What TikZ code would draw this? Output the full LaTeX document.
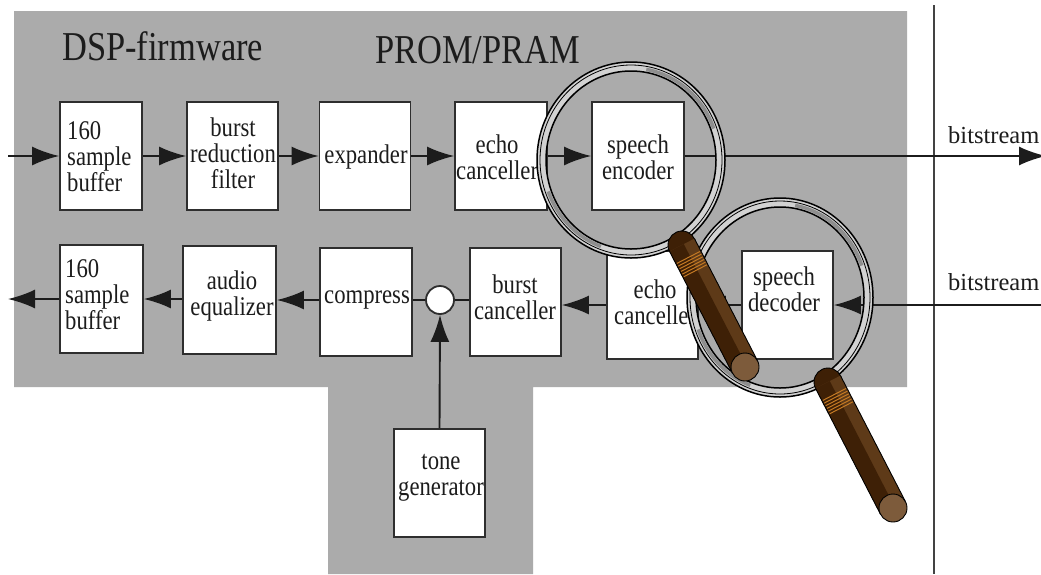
\documentclass[tikz,border=0pt]{standalone}
\usepackage{fontspec}
\usetikzlibrary{arrows.meta,calc}
\newfontfamily\dfont{Liberation Serif}[FakeStretch=0.84]
\newfontfamily\plainserif{Liberation Serif}
\definecolor{panel}{HTML}{ABABAB}
\definecolor{edge}{HTML}{2E2E2E}
\definecolor{ink}{HTML}{1C1C1C}
\definecolor{lensrim}{HTML}{D2D2D2}
\definecolor{rimdark}{HTML}{8E8E8E}
\definecolor{wooddark}{HTML}{3E2006}
\definecolor{woodmid}{HTML}{5E3A18}
\definecolor{woodcap}{HTML}{7D5B3B}
\definecolor{ribline}{HTML}{C47A24}

% magnifying glass: #1 lens centre, #2/#3 radii, #4 handle top, #5 handle end
\newcommand\drawglass[5]{%
  \coordinate (gc) at (#1);
  \fill[lensrim, even odd rule] (gc) ellipse [x radius=#2, y radius=#3]
                                (gc) ellipse [x radius=#2-9, y radius=#3-9];
  \draw[rimdark, line width=3.5pt] ($(gc)+(-80:{#2-6} and {#3-6})$)
        arc [start angle=-80, end angle=-20, x radius=#2-6, y radius=#3-6];
  \draw[rimdark, line width=3.5pt] ($(gc)+(110:{#2-6} and {#3-6})$)
        arc [start angle=110, end angle=160, x radius=#2-6, y radius=#3-6];
  \draw[line width=1.5pt] (gc) ellipse [x radius=#2, y radius=#3];
  \draw[line width=0.8pt] (gc) ellipse [x radius=#2-3, y radius=#3-3];
  \draw[line width=1.5pt] (gc) ellipse [x radius=#2-9, y radius=#3-9];
  \coordinate (ha) at (#4);
  \coordinate (hb) at (#5);
  \coordinate (ha1) at ($(ha)!14pt!90:(hb)$);
  \coordinate (ha2) at ($(ha)!14pt!-90:(hb)$);
  \coordinate (hb1) at ($(hb)!14pt!-90:(ha)$);
  \coordinate (hb2) at ($(hb)!14pt!90:(ha)$);
  \filldraw[draw=black, fill=wooddark, line width=0.9pt] (ha) circle [radius=14];
  \fill[woodmid] (ha1) -- (hb1) -- (hb2) -- (ha2) -- cycle;
  \fill[wooddark] (ha2) -- (hb2) -- ($(hb)!2pt!-90:(ha)$) -- ($(ha)!2pt!90:(hb)$) -- cycle;
  \draw[line width=0.9pt] (ha1) -- (hb1) (ha2) -- (hb2);
  \foreach \d in {14pt,17pt,20pt,23pt,26pt,29pt}{
    \coordinate (hr) at ($(ha)!\d!(hb)$);
    \draw[ribline, line width=1pt] ($(hr)!13pt!90:(hb)$) -- ($(hr)!13pt!-90:(hb)$);
  }
  \filldraw[draw=black, fill=woodcap, line width=0.9pt] (hb) circle [radius=14];
}

\begin{document}
\begin{tikzpicture}[x=1pt,y=-1pt,
  blk/.style={draw=edge, line width=1.8pt, fill=white, inner sep=0pt,
              minimum width=91pt, minimum height=108pt},
  txt/.style={font=\dfont\fontsize{27}{26}\selectfont, align=center,
              inner sep=0pt, text=ink},
  heading/.style={font=\dfont\fontsize{41}{44}\selectfont, inner sep=0pt, text=ink},
  streamlbl/.style={font=\plainserif\fontsize{24.5}{26}\selectfont, inner sep=0pt, text=ink},
  arr/.style={draw=ink, line width=1.9pt, -{Latex[length=27pt,width=19pt]}},
  wire/.style={draw=ink, line width=1.9pt}]

\useasboundingbox (0,0) rectangle (1041,574);
\fill[white] (0,0) rectangle (1041,574);

% shaded firmware area (T-shaped)
\fill[panel] (14,11) -- (907,11) -- (907,387) -- (533,387) -- (533,574)
             -- (328,574) -- (328,387) -- (14,387) -- cycle;

% divider to the outside world
\coordinate (divtop) at (934,5);
\coordinate (divbot) at (934,574);
\draw[edge!90, line width=1.6pt] (divtop) -- (divbot);

\node[heading, anchor=base west] (dsp) at (62,60) {DSP-firmware};
\node[heading, anchor=base west] (prom) at (375,63) {PROM/PRAM};

% transmit path
\node[blk, minimum width=82pt] (buf1) at (101,156) {};
\node[blk] (brf)  at (232.5,156) {};
\node[blk] (exp)  at (365,156) {};
\node[blk, minimum width=92pt] (ech1) at (501,156) {};
\node[blk, minimum width=92pt] (enc)  at (638,156) {};

% receive path
\node[blk, minimum width=83pt] (buf2) at (101.5,299) {};
\node[blk, minimum width=93pt] (eq)   at (229.5,300) {};
\node[blk, minimum width=92pt] (cmp)  at (366,302) {};
\node[circle, draw=edge, line width=1.8pt, fill=white, minimum size=28pt, inner sep=0pt] (sum) at (440,300) {};
\node[blk] (bc)   at (515.5,302) {};
\node[blk] (ech2) at (652.5,305) {};
\node[blk] (dec)  at (787.5,305) {};
\node[blk] (tone) at (439.5,483) {};

% block captions
\node[txt, align=left, anchor=west] (buf1t) at (67,157) {160\\sample\\buffer};
\node[txt] (brft) at (233,153) {burst\\reduction\\filter};
\node[txt] (expt) at (366,157) {expander};
\node[txt, anchor=west] (ech1t) at (456,157) {echo\\canceller};
\node[txt] (enct) at (638,157) {speech\\encoder};
\node[txt, align=left, anchor=west] (buf2t) at (65,295) {160\\sample\\buffer};
\node[txt] (eqt) at (232,295.5) {audio\\equalizer};
\node[txt, anchor=west] (cmpt) at (324,300) {compress};
\node[txt] (bct) at (515,297) {burst\\canceller};
\node[txt, anchor=west] (ech2t) at (614,302) {echo\\canceller};
\node[txt] (dect) at (784,289) {speech\\decoder};
\node[txt] (tonet) at (441,478) {tone\\generator};

% stream labels
\node[streamlbl, anchor=base west] (bsout) at (948,143) {bitstream};
\node[streamlbl, anchor=base west] (bsin) at (948,290) {bitstream};

% transmit connectors
\coordinate (txin) at (8,156);
\coordinate (txout) at (1046,156);
\draw[arr] (txin) -- (buf1.west);
\draw[arr] (buf1.east) -- (brf.west);
\draw[arr] (brf.east) -- (exp.west);
\draw[arr] (exp.east) -- (ech1.west);
\draw[arr] (ech1.east) -- (enc.west);
\draw[arr] (enc.east) -- (txout);

% receive connectors
\coordinate (rxin) at (1041,305);
\coordinate (rxout) at (8,299);
\draw[arr] (rxin) -- (dec.east);
\draw[arr] (dec.west) -- (dec.west -| ech2.east);
\draw[arr] (ech2.west) -- (ech2.west -| bc.east);
\draw[wire] (bc.west |- sum.east) -- (sum.east);
\draw[wire] (sum.west) -- (sum.west -| cmp.east);
\draw[arr] (cmp.west |- eq.east) -- (eq.east);
\draw[arr] (eq.west |- buf2.east) -- (buf2.east);
\draw[arr] (buf2.west) -- (rxout);
\draw[arr] (tone.north) -- (sum.south);

% magnifying glasses
\drawglass{780,297.5}{93}{99.5}{828,382}{893,508}
\drawglass{631,160}{94}{98}{682,245}{745,367}

\end{tikzpicture}
\end{document}
